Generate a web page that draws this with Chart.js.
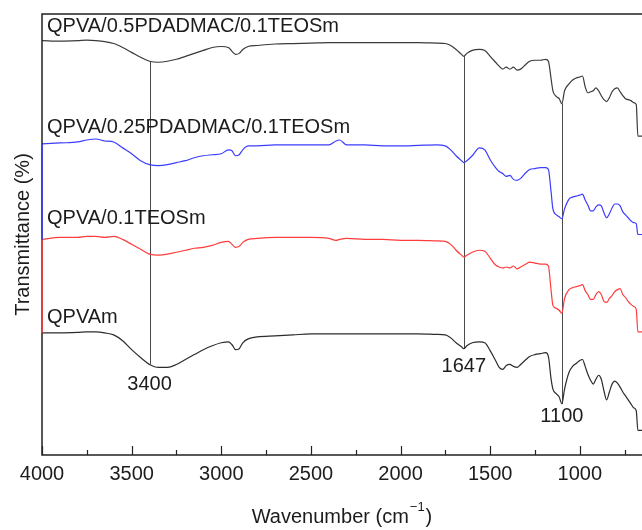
<!DOCTYPE html>
<html>
<head>
<meta charset="utf-8">
<script src="https://cdn.jsdelivr.net/npm/chart.js@4.4.0/dist/chart.umd.min.js"></script>
<style>
  html, body { margin: 0; padding: 0; background: #fff; }
  canvas { display: block; }
</style>
</head>
<body>
<canvas id="ftir" width="642" height="530"></canvas>
<script>
// wavenumbers (cm-1), shared by all four spectra
const wavenumbers = [
    4000, 3900, 3800, 3750, 3700, 3650, 3600, 3550, 3500, 3450,
    3400, 3350, 3300, 3250, 3200, 3150, 3100, 3050, 3000, 2960,
    2940, 2920, 2900, 2880, 2850, 2800, 2700, 2600, 2500, 2400,
    2360, 2340, 2300, 2200, 2100, 2000, 1900, 1800, 1750, 1720,
    1690, 1660, 1647, 1630, 1600, 1560, 1530, 1500, 1470, 1450,
    1430, 1410, 1390, 1370, 1350, 1330, 1300, 1280, 1250, 1220,
    1190, 1175, 1160, 1150, 1130, 1115, 1100, 1085, 1060, 1040,
    1020, 1000, 985, 970, 955, 940, 925, 910, 895, 880,
    865, 850, 835, 820, 805, 790, 775, 760, 745, 730,
    715, 700, 685, 676, 670, 660, 650
];

// stacked transmittance traces (offset, arbitrary units)
const pdadmac05 = [
    394, 393.5, 394, 394.5, 394, 393, 391, 387, 382, 377,
    373, 372, 373, 375, 378, 381, 384, 387, 388, 387,
    383, 380, 381, 385, 388, 389, 390.5, 391, 391.5, 392,
    392, 392, 392, 392, 392, 392, 392, 391.5, 391, 389,
    385, 380, 378, 381, 384, 385, 384, 378, 372, 368,
    365, 367, 365, 367, 364, 365, 370, 373, 374, 374,
    375, 373, 355, 343, 337, 335, 330, 343, 350, 354,
    356, 357, 358, 347, 341, 342, 343, 346, 343, 338,
    334, 332, 336, 342, 345, 346, 342, 338, 335, 334,
    333, 331, 329, 297, 297, 297, 297
];
const pdadmac025 = [
    289, 290, 291, 293, 294, 292, 291, 285, 279, 272,
    268, 267, 268, 270, 272, 275, 277, 278, 279, 283,
    282, 277, 278, 283, 287, 287, 288, 288, 288, 288,
    292, 293, 288, 288, 287, 287, 287.5, 288, 287, 283,
    277, 272, 270, 272, 277, 285, 283, 273, 265, 261,
    259, 256, 257, 253, 252, 254, 260, 263, 264, 265,
    265, 263, 240, 223, 217, 215, 213, 223, 233, 235,
    236, 237, 238, 232, 227, 221, 221, 225, 227, 226,
    219, 214, 218, 224, 228, 228, 226, 220, 217, 214,
    211, 209, 208, 197, 197, 197, 197
];
const teos01 = [
    192, 194, 194, 195, 195, 194, 195, 192, 187, 182,
    177, 176, 177, 179, 181, 183, 184, 186, 189, 190,
    187, 184, 185, 189, 192, 193, 194, 194, 194, 193,
    191, 192, 193, 192, 192, 191, 191, 190.5, 190, 187,
    181, 176, 174, 176, 179, 181, 180, 173, 166, 164,
    163, 164, 163, 165, 162, 164, 167, 169, 168, 167,
    167, 165, 140, 125, 122, 120, 117, 132, 141, 143,
    144, 145, 146, 140, 136, 131, 131, 136, 139, 136,
    129, 128, 132, 135, 139, 141, 142, 136, 133, 129,
    126, 124, 121, 98, 98, 98, 98
];
const qpvam = [
    97, 97, 97.5, 98, 98, 97, 95, 89, 80, 72,
    65, 62, 62, 65, 70, 75, 80, 84, 87, 88,
    85, 80, 81, 87, 91, 93, 94, 95, 96, 96,
    96, 96, 96, 96, 96, 96, 96, 95.5, 95, 92,
    87, 83, 81, 84, 87, 88, 87, 79, 69, 62,
    60, 64, 65, 63, 62, 65, 70, 73, 75, 76,
    77, 73, 50, 40, 35, 32, 25, 40, 57, 63,
    66, 69, 70, 63, 55, 49, 45, 50, 54, 50,
    38, 29, 37, 45, 48, 46, 42, 37, 33, 29,
    25, 21, 18, -2, -2, -2, -2
];

const seriesNames = ["QPVA/0.5PDADMAC/0.1TEOSm", "QPVA/0.25PDADMAC/0.1TEOSm", "QPVA/0.1TEOSm", "QPVAm"];
const seriesValues = [pdadmac05, pdadmac025, teos01, qpvam];
const seriesColors = ["#3a3a3a", "#3c3cff", "#ff3c3c", "#2c2c2c"];
const nameGap = [14, 16, 21, 15];

// marked bands
const bands = [3400, 1647, 1100];
const bandLabelGap = [20, 18, 13];

const xTicks = [4000, 3750, 3500, 3250, 3000, 2750, 2500, 2250, 2000, 1750, 1500, 1250, 1000, 750];

const FONT = "'Liberation Sans', Arial, Helvetica, sans-serif";
const INK = "#1c1c1c";

const decorations = {
    id: "decorations",
    beforeDatasetsDraw(chart) {
        const { ctx, scales: { x, y } } = chart;
        const top = seriesValues[0], bottom = seriesValues[seriesValues.length - 1];
        ctx.save();
        ctx.strokeStyle = "#4a4a4a";
        ctx.lineWidth = 1;
        bands.forEach(b => {
            const i = wavenumbers.indexOf(b);
            const px = Math.round(x.getPixelForValue(b)) + 0.5;
            ctx.beginPath();
            ctx.moveTo(px, y.getPixelForValue(top[i]));
            ctx.lineTo(px, y.getPixelForValue(bottom[i]));
            ctx.stroke();
        });
        ctx.restore();
    },
    afterDatasetsDraw(chart) {
        const { ctx, chartArea: a, scales: { x, y } } = chart;
        ctx.save();

        // frame: left, bottom and top edges
        ctx.strokeStyle = "#222";
        ctx.lineWidth = 1.5;
        ctx.beginPath();
        ctx.moveTo(a.right, a.top);
        ctx.lineTo(a.left, a.top);
        ctx.lineTo(a.left, a.bottom);
        ctx.lineTo(a.right, a.bottom);
        ctx.stroke();

        // left edge takes the colour of the trace that starts above it
        for (let s = 1; s < seriesValues.length - 1; s++) {
            ctx.strokeStyle = seriesColors[s];
            ctx.beginPath();
            ctx.moveTo(a.left, y.getPixelForValue(seriesValues[s][0]));
            ctx.lineTo(a.left, y.getPixelForValue(seriesValues[s + 1][0]));
            ctx.stroke();
        }

        // inward tick marks, long every 500
        ctx.strokeStyle = "#222";
        ctx.lineWidth = 1.2;
        xTicks.forEach(v => {
            const px = Math.round(x.getPixelForValue(v)) + 0.5;
            const len = v % 500 === 0 ? 9 : 5;
            ctx.beginPath();
            ctx.moveTo(px, a.bottom);
            ctx.lineTo(px, a.bottom - len);
            ctx.stroke();
        });

        ctx.fillStyle = INK;
        ctx.font = "20px " + FONT;

        // trace names
        ctx.textAlign = "left";
        ctx.textBaseline = "middle";
        seriesNames.forEach((n, s) => {
            ctx.fillText(n, a.left + 5, y.getPixelForValue(seriesValues[s][0]) - nameGap[s]);
        });

        // band labels below the bottom trace
        ctx.textAlign = "center";
        bands.forEach((b, k) => {
            const i = wavenumbers.indexOf(b);
            const yb = y.getPixelForValue(seriesValues[seriesValues.length - 1][i]);
            ctx.fillText(String(b), x.getPixelForValue(b), yb + bandLabelGap[k]);
        });

        // y title
        ctx.save();
        ctx.translate(23, (a.top + a.bottom) / 2);
        ctx.rotate(-Math.PI / 2);
        ctx.fillText("Transmittance (%)", 0, 0);
        ctx.restore();

        // x title with superscript
        const main = "Wavenumber (cm", sup = "\u22121", tail = ")";
        ctx.font = "20px " + FONT;
        const w1 = ctx.measureText(main).width, w3 = ctx.measureText(tail).width;
        ctx.font = "13px " + FONT;
        const w2 = ctx.measureText(sup).width;
        let tx = 341 - (w1 + w2 + w3) / 2;
        const ty = 517;
        ctx.textAlign = "left";
        ctx.font = "20px " + FONT;
        ctx.fillText(main, tx, ty);
        ctx.font = "13px " + FONT;
        ctx.fillText(sup, tx + w1 + 1, ty - 10);
        ctx.font = "20px " + FONT;
        ctx.fillText(tail, tx + w1 + w2 + 2, ty);

        ctx.restore();
    }
};

new Chart(document.getElementById("ftir"), {
    type: "line",
    data: {
        datasets: seriesValues.map((vals, s) => ({
            label: seriesNames[s],
            data: wavenumbers.map((w, i) => ({ x: w, y: vals[i] })),
            borderColor: seriesColors[s],
            borderWidth: 1.2,
            pointRadius: 0,
            fill: false,
            cubicInterpolationMode: "monotone"
        }))
    },
    options: {
        responsive: false,
        animation: false,
        layout: { padding: { left: 42, top: 14, right: 0, bottom: 37 } },
        plugins: { legend: { display: false }, tooltip: { enabled: false } },
        scales: {
            x: {
                type: "linear",
                reverse: true,
                min: 653,
                max: 4000,
                afterBuildTicks: scale => { scale.ticks = xTicks.map(v => ({ value: v })); },
                grid: { display: false, drawTicks: false },
                border: { display: false },
                ticks: {
                    padding: 7,
                    color: INK,
                    font: { family: FONT, size: 20 },
                    maxRotation: 0,
                    autoSkip: false,
                    callback: v => (v % 500 === 0 ? String(v) : "")
                }
            },
            y: { display: false, min: -27, max: 421 }
        }
    },
    plugins: [decorations]
});
</script>
</body>
</html>
